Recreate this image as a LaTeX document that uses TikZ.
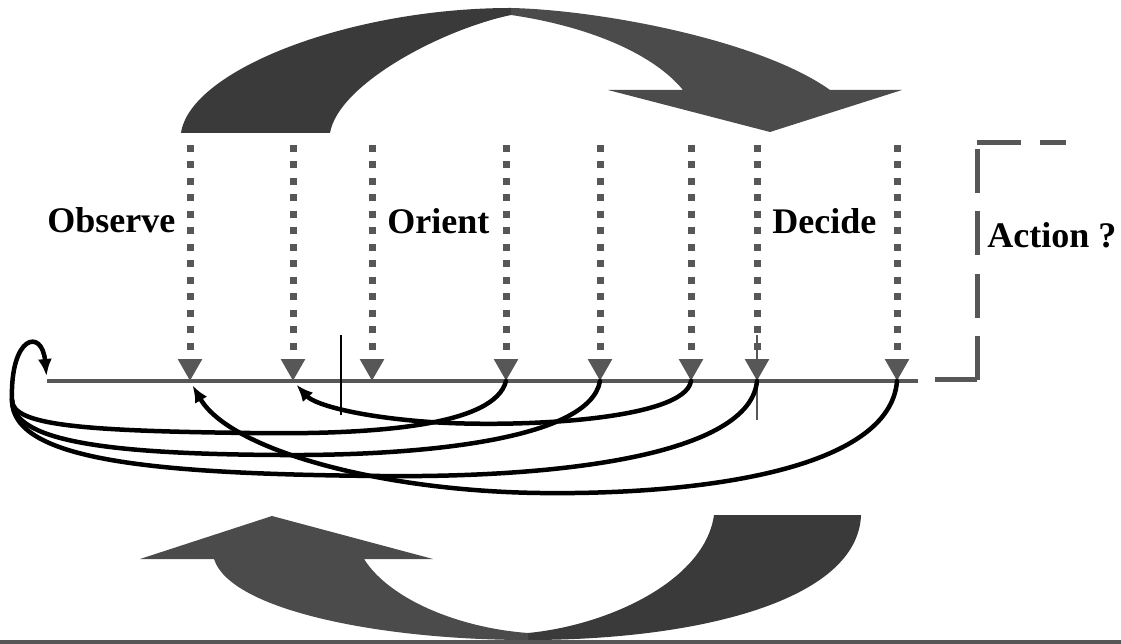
\documentclass[tikz,border=0pt]{standalone}
\usepackage{fontspec}
\setmainfont{Liberation Serif}
\usepackage{tikz}
\usetikzlibrary{arrows.meta}
\definecolor{arcdark}{HTML}{3A3A3A}
\definecolor{arclight}{HTML}{4B4B4B}
\definecolor{lgray}{HTML}{575757}
\tikzstyle{probe}=[draw=lgray, line width=0.14cm, dash pattern=on 0.14cm off 0.19cm, -{Triangle[length=0.44cm,width=0.46cm]}]
\tikzstyle{strand}=[draw=black, line width=0.09cm, line cap=round]
\tikzstyle{loopback}=[strand, shorten >=0.1cm, -{Latex[length=0.34cm,width=0.28cm]}]
\tikzstyle{pending}=[draw=lgray, line width=0.1cm, dash pattern=on 0.88cm off 0.37cm]
\tikzstyle{phase}=[font=\bfseries\fontsize{20.5}{24}\selectfont, inner sep=0pt, anchor=base west]

\begin{document}
\begin{tikzpicture}[x=0.02cm, y=-0.02cm]
	\useasboundingbox (0,0) rectangle (1121,644);

	% upper sweep, two halves
	\fill[arcdark] (181,133) .. controls (190,70) and (350,8) .. (511,8) -- (511,15)
		.. controls (440,30) and (338,85) .. (330,133) -- cycle;
	\fill[arclight] (511,8) .. controls (600,10) and (760,40) .. (830,90) -- (902,90) -- (770,132)
		-- (608,90) -- (683,90) .. controls (650,50) and (580,25) .. (511,15) -- cycle;

	% lower sweep
	\fill[arcdark] (861,515) .. controls (858,600) and (700,640) .. (528,640) -- (528,633)
		.. controls (610,625) and (705,580) .. (714,515) -- cycle;
	\fill[arclight] (528,640) .. controls (380,640) and (230,610) .. (214,559) -- (140,559) -- (272,516)
		-- (433,559) -- (364,559) .. controls (390,600) and (460,628) .. (528,633) -- cycle;
	\draw[lgray, line width=0.08cm] (0,642) -- (1121,642);

	% time line
	\coordinate (a) at (47,381);
	\coordinate (z) at (918,381);
	\draw[lgray, line width=0.08cm] (a) -- (z);

	\coordinate (u1) at (190,145); \coordinate (d1) at (190,381);
	\coordinate (u2) at (293,145); \coordinate (d2) at (293,381);
	\coordinate (u3) at (372,145); \coordinate (d3) at (372,381);
	\coordinate (u4) at (506,145); \coordinate (d4) at (506,381);
	\coordinate (u5) at (600,145); \coordinate (d5) at (600,381);
	\coordinate (u6) at (691,145); \coordinate (d6) at (691,381);
	\coordinate (u7) at (757,145); \coordinate (d7) at (757,381);
	\coordinate (u8) at (897,145); \coordinate (d8) at (897,381);

	\draw[probe] (u1) -- (d1);
	\draw[probe] (u2) -- (d2);
	\draw[probe] (u3) -- (d3);
	\draw[probe] (u4) -- (d4);
	\draw[probe] (u5) -- (d5);
	\draw[probe] (u6) -- (d6);
	\draw[probe] (u7) -- (d7);
	\draw[probe] (u8) -- (d8);

	% phase ticks
	\draw[black, line width=0.03cm] (341,335) -- (341,415);
	\draw[lgray, line width=0.04cm] (757,335) -- (757,420);

	% feedback loops under the line
	\coordinate (h) at (12,400);
	\draw[strand] (d4) .. controls (495,425) and (380,435) .. (250,433) .. controls (80,431) and (12,425) .. (h);
	\draw[strand] (d5) .. controls (590,440) and (420,456) .. (280,455) .. controls (100,454) and (12,440) .. (h);
	\draw[strand] (d7) .. controls (750,455) and (560,478) .. (380,476) .. controls (150,474) and (12,460) .. (h);
	\draw[loopback] (h) .. controls (10,335) and (42,328) .. (a);
	\draw[loopback] (d6) .. controls (685,420) and (520,428) .. (430,422) .. controls (360,417) and (315,405) .. (d2);
	\draw[loopback] (d8) .. controls (890,470) and (700,495) .. (540,493) .. controls (380,491) and (230,450) .. (d1);

	% labels
	\node[phase] (obs) at (47,233) {Observe};
	\node[phase] (ori) at (387,234) {Orient};
	\node[phase] (dec) at (772,234) {Decide};
	\node[phase] (act) at (987,248) {Action ?};

	% open bracket for the action
	\coordinate (k0) at (935,380);
	\coordinate (k1) at (977,380);
	\coordinate (k2) at (977,143);
	\coordinate (k3) at (1066,143);
	\draw[pending] (k1) -- (k0);
	\draw[pending] (k1) -- (k2);
	\draw[pending] (k2) -- (k3);
\end{tikzpicture}
\end{document}
